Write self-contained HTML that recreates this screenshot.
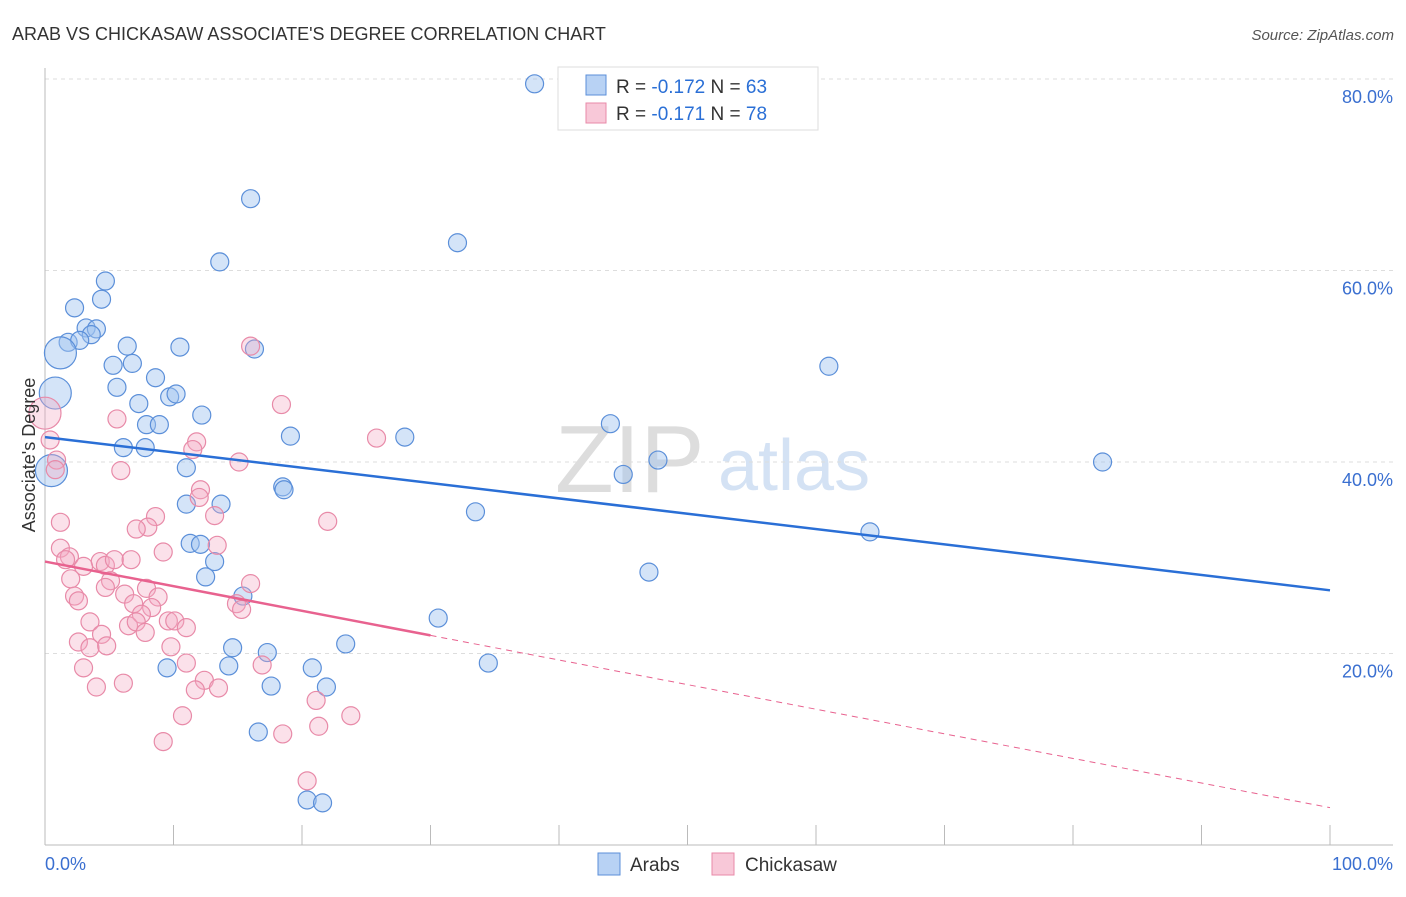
<!DOCTYPE html>
<html><head><meta charset="utf-8"><style>
body{margin:0;background:#fff;font-family:"Liberation Sans",sans-serif;}
svg text{font-family:"Liberation Sans",sans-serif;}
</style></head><body>
<svg id="chart" width="1406" height="892" xmlns="http://www.w3.org/2000/svg">
<text x="12" y="40" font-size="18" fill="#333">ARAB VS CHICKASAW ASSOCIATE'S DEGREE CORRELATION CHART</text>
<text x="1394" y="40" font-size="15" fill="#555" font-style="italic" text-anchor="end">Source: ZipAtlas.com</text>
<g>
<text x="555" y="492" font-size="96" fill="#ddd" font-family="Liberation Serif">ZIP</text>
<text x="718" y="490" font-size="72" fill="#d4e2f4">atlas</text>
</g>
<g id="grid"></g>
<g id="axes"></g>
<g id="pts"></g>
<g id="lines"></g>
<text x="35" y="455" font-size="18" fill="#333" text-anchor="middle" transform="rotate(-90 35 455)">Associate's Degree</text>
<text x="45" y="870" font-size="18" fill="#3a6fd0">0.0%</text>
<text x="1393" y="870" font-size="18" fill="#3a6fd0" text-anchor="end">100.0%</text>
<g>
<rect x="558" y="67" width="260" height="63" fill="#fff" stroke="#ddd"/>
<rect x="586" y="75" width="20" height="20" fill="#b8d2f4" stroke="#5b8fd9"/>
<rect x="586" y="103" width="20" height="20" fill="#f8c8d8" stroke="#e88aa8"/>
<text x="616" y="93" font-size="19" fill="#333">R = <tspan fill="#2a6fd6">-0.172</tspan>   N = <tspan fill="#2a6fd6">63</tspan></text>
<text x="616" y="120" font-size="19" fill="#333">R = <tspan fill="#2a6fd6"> -0.171</tspan>   N = <tspan fill="#2a6fd6">78</tspan></text>
</g>
<g>
<rect x="598" y="853" width="22" height="22" fill="#b8d2f4" stroke="#5b8fd9"/>
<text x="630" y="871" font-size="19" fill="#333">Arabs</text>
<rect x="712" y="853" width="22" height="22" fill="#f8c8d8" stroke="#e88aa8"/>
<text x="745" y="871" font-size="19" fill="#333">Chickasaw</text>
</g>
</svg>
<script>
const yTicks=[20,40,60,80];
const yTickLabels=["20.0%","40.0%","60.0%","80.0%"];
const xTicks=[0,10,20,30,40,50,60,70,80,90,100];
const arabX=[38.1,16.0,32.1,13.6,4.7,4.4,2.3,3.2,4.0,3.6,1.8,2.7,1.2,6.4,10.5,16.3,5.3,6.8,61.0,8.6,5.6,0.8,9.7,10.2,7.3,12.2,7.9,8.9,44.0,19.1,28.0,6.1,7.8,82.3,11.0,0.5,45.0,47.7,18.5,18.6,11.0,13.7,33.5,64.2,11.3,12.1,13.2,12.5,47.0,15.4,30.6,14.6,23.4,17.3,34.5,9.5,14.3,20.8,17.6,21.9,16.6,20.4,21.6];
const arabY=[79.5,67.5,62.9,60.9,58.9,57.0,56.1,54.0,53.9,53.3,52.5,52.7,51.4,52.1,52.0,51.8,50.1,50.3,50.0,48.8,47.8,47.2,46.8,47.1,46.1,44.9,43.9,43.9,44.0,42.7,42.6,41.5,41.5,40.0,39.4,39.1,38.7,40.2,37.4,37.1,35.6,35.6,34.8,32.7,31.5,31.4,29.6,28.0,28.5,26.0,23.7,20.6,21.0,20.1,19.0,18.5,18.7,18.5,16.6,16.5,11.8,4.7,4.4];
const arabBig=[12,21,35];
const chickX=[0,0.4,0.9,0.8,16.0,18.4,25.8,5.6,11.8,11.5,15.1,5.9,12.1,12.0,8.6,1.2,8.0,7.1,13.2,22.0,1.2,1.9,1.6,4.3,4.7,5.4,9.2,13.4,3.0,6.7,2.0,5.1,16.0,4.7,2.3,2.6,6.2,7.9,8.8,6.9,8.3,14.9,15.3,7.5,3.5,9.6,10.1,6.5,7.1,7.8,11.0,4.4,2.6,3.5,4.8,9.8,16.9,11.0,3.0,12.4,4.0,6.1,11.7,13.5,21.1,10.7,23.8,21.3,9.2,18.5,20.4];
const chickY=[45.1,42.3,40.2,39.2,52.1,46.0,42.5,44.5,42.1,41.3,40.0,39.1,37.1,36.3,34.3,33.7,33.2,33.0,34.4,33.8,31.0,30.1,29.8,29.6,29.2,29.8,30.6,31.3,29.1,29.8,27.8,27.6,27.3,26.9,26.0,25.5,26.2,26.8,25.9,25.2,24.8,25.2,24.6,24.1,23.3,23.4,23.4,22.9,23.3,22.2,22.7,22.0,21.2,20.6,20.8,20.7,18.8,19.0,18.5,17.2,16.5,16.9,16.2,16.4,15.1,13.5,13.5,12.4,10.8,11.6,6.7];
const chickBig=[0];
const arabTrend=[42.6,26.6];
const chickTrend=[29.6,3.9];
const chickSolidEnd=30;
const X0=45,X1=1330,Y0=845,Y80=79;
const sx=v=>X0+(X1-X0)*v/100;
const sy=v=>Y0-(Y0-Y80)*v/80;
const NS="http://www.w3.org/2000/svg";
function mk(tag,attrs,parent){const e=document.createElementNS(NS,tag);for(const k in attrs)e.setAttribute(k,attrs[k]);parent.appendChild(e);return e;}
const grid=document.getElementById('grid'),axes=document.getElementById('axes'),pts=document.getElementById('pts'),lines=document.getElementById('lines');
yTicks.forEach((t,i)=>{
 const l=mk('line',{x1:X0,x2:1393,y1:sy(t),y2:sy(t),stroke:'#ddd','stroke-dasharray':'4,4'},grid);
 
 
 const tx=mk('text',{x:1393,y:sy(t)+24,'font-size':18,fill:'#3a6fd0','text-anchor':'end'},grid);
 tx.textContent=yTickLabels[i];
 
 
});
const tl=mk('line',{x1:X0,x2:1393,y1:sy(80),y2:sy(80),stroke:'#ddd','stroke-dasharray':'4,4'},grid);
const ya=mk('line',{x1:X0,x2:X0,y1:68,y2:Y0,stroke:'#bbb'},axes);


const xa=mk('line',{x1:X0,x2:1393,y1:Y0,y2:Y0,stroke:'#bbb'},axes);


xTicks.forEach(t=>{
 const k=mk('line',{x1:sx(t),x2:sx(t),y1:Y0,y2:Y0-20,stroke:'#bbb'},axes);
 
 
});
function drawPts(xs,ys,big,fill,stroke,name){
 xs.forEach((x,i)=>{
  const c=mk('circle',{cx:sx(x),cy:sy(ys[i]),r:big.includes(i)?16:9,fill:fill,stroke:stroke,'stroke-width':1.2},pts);
  
  
 });
}
drawPts(arabX,arabY,arabBig,'rgba(160,196,240,0.45)','#5b8fd9','arab-point');
drawPts(chickX,chickY,chickBig,'rgba(244,170,195,0.35)','#e88aa8','chickasaw-point');
const bl=mk('line',{x1:sx(0),y1:sy(arabTrend[0]),x2:sx(100),y2:sy(arabTrend[1]),stroke:'#2a6fd6','stroke-width':2.5},lines);


const cy=v=>chickTrend[0]+(chickTrend[1]-chickTrend[0])*v/100;
const pl=mk('line',{x1:sx(0),y1:sy(cy(0)),x2:sx(chickSolidEnd),y2:sy(cy(chickSolidEnd)),stroke:'#e8628f','stroke-width':2.5},lines);


const pd=mk('line',{x1:sx(chickSolidEnd),y1:sy(cy(chickSolidEnd)),x2:sx(100),y2:sy(cy(100)),stroke:'#e8628f','stroke-width':1,'stroke-dasharray':'6,5'},lines);


</script>
</body></html>
